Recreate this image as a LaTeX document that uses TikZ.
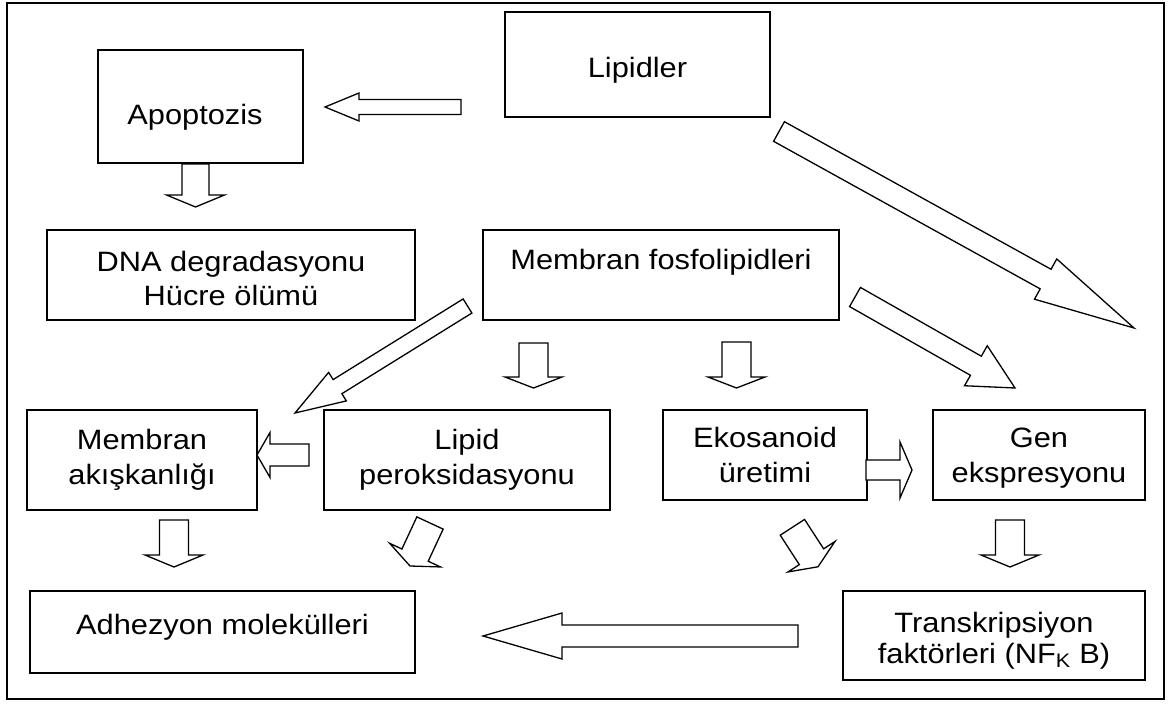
\documentclass[tikz,border=0pt]{standalone}
\usepackage{fontspec}
\setmainfont{Liberation Sans}[FakeStretch=1.1]
\newcommand\barrow[7]{%
  \pgfmathsetmacro\bdx{#3-#1}%
  \pgfmathsetmacro\bdy{#4-#2}%
  \pgfmathsetmacro\blen{veclen(\bdx,\bdy)}%
  \pgfmathsetmacro\bang{atan2(\bdy,\bdx)}%
  \pgfmathsetmacro\bb{\blen-#7}%
  \draw[barr, shift={(#1,#2)}, rotate=-\bang]
    (0,-#5) -- (\bb,-#5) -- (\bb,-#6) -- (\blen,0) -- (\bb,#6) -- (\bb,#5) -- (0,#5) -- cycle;}
\begin{document}
\begin{tikzpicture}[x=1pt,y=-1pt,
  box/.style={draw, line width=1.6pt, inner sep=0pt},
  txt/.style={anchor=base, inner sep=0pt, font=\fontsize{28}{34}\selectfont},
  barr/.style={draw, line width=1.3pt, fill=white, line join=miter}]
\useasboundingbox (0,0) rectangle (1173,704);
\node[draw, line width=1.3pt, minimum width=1157pt, minimum height=696pt, inner sep=0pt] (frame) at (585.5,351) {};
% boxes
\node[box, minimum width=205pt, minimum height=113pt] (apo) at (200.5,106.5) {};
\node[box, minimum width=265pt, minimum height=105pt] (lip) at (637.5,64.5) {};
\node[box, minimum width=368pt, minimum height=90pt] (dna) at (231,275) {};
\node[box, minimum width=356pt, minimum height=90pt] (mfl) at (661,275) {};
\node[box, minimum width=230pt, minimum height=100pt] (mak) at (142,460) {};
\node[box, minimum width=286pt, minimum height=100pt] (lpe) at (467,460) {};
\node[box, minimum width=204pt, minimum height=90pt] (eko) at (765,455) {};
\node[box, minimum width=212pt, minimum height=90pt] (gen) at (1039,455) {};
\node[box, minimum width=385pt, minimum height=82pt] (adh) at (222.5,632) {};
\node[box, minimum width=302pt, minimum height=89pt] (trk) at (994,635.5) {};
% texts
\node[txt] (t1) at (195,124) {Apoptozis};
\node[txt] (t2) at (637.5,77) {Lipidler};
\node[txt] (t3) at (231,271) {DNA degradasyonu};
\node[txt] (t4) at (231,305) {Hücre ölümü};
\node[txt] (t5) at (661,269) {Membran fosfolipidleri};
\node[txt] (t6) at (142,449) {Membran};
\node[txt] (t7) at (142,484) {akışkanlığı};
\node[txt] (t8) at (467,449) {Lipid};
\node[txt] (t9) at (467,484) {peroksidasyonu};
\node[txt] (t10) at (765,447) {Ekosanoid};
\node[txt] (t11) at (765,482) {üretimi};
\node[txt] (t12) at (1039,447) {Gen};
\node[txt] (t13) at (1039,482) {ekspresyonu};
\node[txt] (t14) at (222.5,634) {Adhezyon molekülleri};
\node[txt] (t15) at (994,632) {Transkripsiyon};
\node[txt] (t16) at (994,663) {faktörleri (NF\textsubscript{K} B)};
% block arrows: tail x,y ; tip x,y ; shaft half width ; head half width ; head length
\barrow{461}{107}{325}{107}{7.5}{14}{34}
\barrow{195.5}{164}{195.5}{207}{13.5}{29}{12}
\barrow{779}{131.5}{1134}{328}{11.2}{23}{101}
\barrow{855}{297}{1015}{388}{11}{23}{45}
\barrow{467.5}{306}{295}{413}{8.3}{16.8}{50}
\barrow{533.5}{343}{533.5}{388}{14.5}{28.5}{11}
\barrow{736.5}{342}{736.5}{388}{14.5}{28.5}{11}
\barrow{309}{455}{257}{455}{11}{22.5}{13}
\barrow{866}{470}{912}{470}{10}{28}{12}
\barrow{174}{520}{174}{567}{14.5}{29}{12}
\barrow{430}{523}{410}{566}{14.5}{28}{12}
\barrow{792.4}{527.3}{818}{566.8}{14.5}{28}{12}
\barrow{1010}{520}{1010}{567}{14.5}{29}{12}
\barrow{798}{636}{483}{636}{11}{23}{79}
\end{tikzpicture}
\end{document}
